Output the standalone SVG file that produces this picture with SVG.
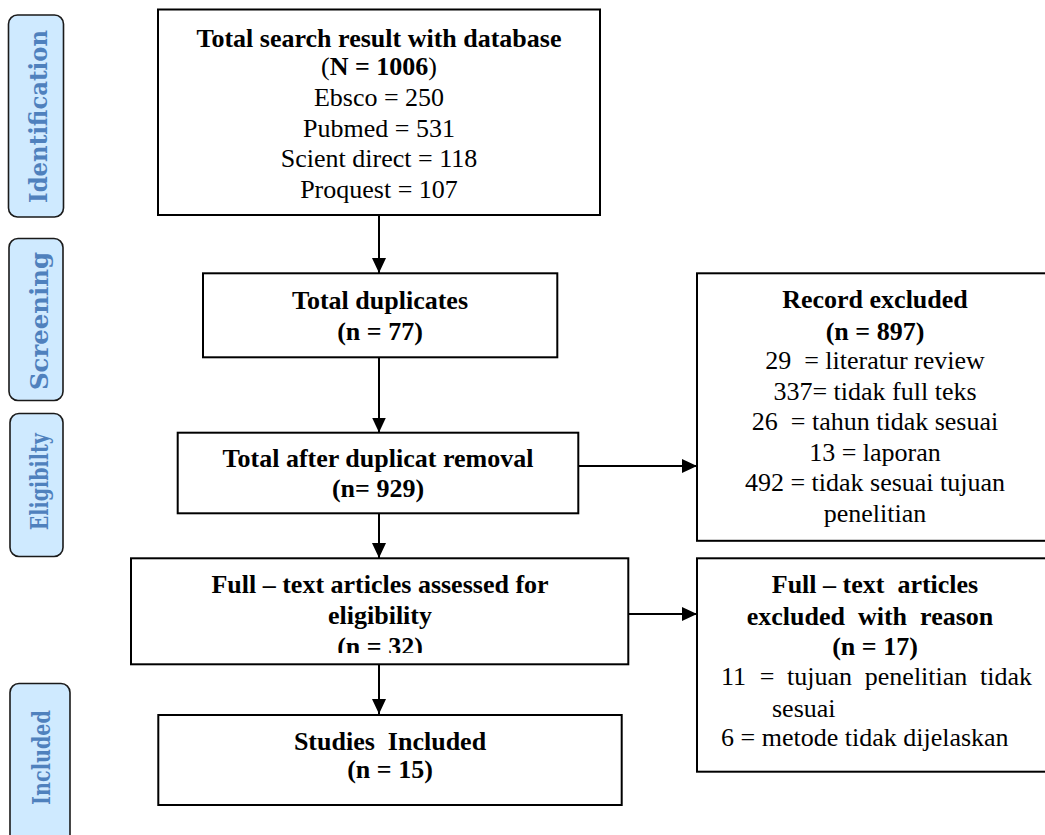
<svg xmlns="http://www.w3.org/2000/svg" width="1045" height="835" viewBox="0 0 1045 835">
<style>
.box{fill:#fff;stroke:#000;stroke-width:2}
.stage{fill:#cfeaff;stroke:#1a1a1a;stroke-width:1.6}
.st{font-family:"DejaVu Serif","Liberation Serif",serif;font-weight:bold;font-size:24px;fill:#4f81bd;text-anchor:middle}
.t{font-family:"Liberation Serif","Times New Roman",serif;font-size:26px;fill:#000;text-anchor:middle}
.b{font-weight:bold}
.l{text-anchor:start}
.edge{stroke:#000;stroke-width:2;fill:none;marker-end:url(#ah)}
</style>
<defs>
<marker id="ah" markerUnits="userSpaceOnUse" markerWidth="16" markerHeight="16" refX="15" refY="7" orient="auto">
<path d="M0,0 L15,7 L0,14 Z" fill="#000"/>
</marker>
<clipPath id="c4"><rect x="131" y="558" width="500" height="95"/></clipPath>
</defs>
<g id="stage-identification">
<rect class="stage" x="8.5" y="15" width="55" height="202" rx="9"/>
<text class="st" transform="translate(47,116.5) rotate(-90)" textLength="173" lengthAdjust="spacingAndGlyphs">Identification</text>
</g>
<g id="stage-screening">
<rect class="stage" x="9" y="238.5" width="54" height="162" rx="9"/>
<text class="st" transform="translate(48,321) rotate(-90)" textLength="138" lengthAdjust="spacingAndGlyphs">Screening</text>
</g>
<g id="stage-eligibility">
<rect class="stage" x="10" y="413.5" width="53" height="143" rx="9"/>
<text class="st" transform="translate(48,481.7) rotate(-90)" textLength="97" lengthAdjust="spacingAndGlyphs">Eligibilty</text>
</g>
<g id="stage-included">
<rect class="stage" x="10" y="683.5" width="60" height="170" rx="9"/>
<text class="st" transform="translate(50,757.5) rotate(-90)" textLength="95" lengthAdjust="spacingAndGlyphs">Included</text>
</g>
<g id="connectors">
<line class="edge" x1="379" y1="215" x2="379" y2="273"/>
<line class="edge" x1="379" y1="357" x2="379" y2="432.5"/>
<line class="edge" x1="379" y1="513" x2="379" y2="558"/>
<line class="edge" x1="379" y1="664" x2="379" y2="714"/>
<line class="edge" x1="578" y1="466" x2="697" y2="466"/>
<line class="edge" x1="628" y1="614" x2="697" y2="614"/>
</g>
<g id="n-search">
<rect class="box" x="158" y="9.5" width="442" height="205.5"/>
<text class="t b" x="379" y="46.5">Total search result with database</text>
<text class="t" x="379" y="74.5">(<tspan class="b">N = 1006</tspan>)</text>
<text class="t" x="379" y="106">Ebsco = 250</text>
<text class="t" x="379" y="136.7">Pubmed = 531</text>
<text class="t" x="379" y="167.3">Scient direct = 118</text>
<text class="t" x="379" y="198">Proquest = 107</text>
</g>
<g id="n-duplicates">
<rect class="box" x="203" y="273.3" width="354.3" height="84"/>
<text class="t b" x="380" y="309.3">Total duplicates</text>
<text class="t b" x="380" y="340">(n = 77)</text>
</g>
<g id="n-after">
<rect class="box" x="177.7" y="432.7" width="400.6" height="80.6"/>
<text class="t b" x="378" y="467.3">Total after duplicat removal</text>
<text class="t b" x="378" y="497">(n= 929)</text>
</g>
<g id="n-record-excluded">
<rect class="box" x="697" y="273.3" width="356" height="267.5"/>
<text class="t b" x="875" y="308.3">Record excluded</text>
<text class="t b" x="875" y="340">(n = 897)</text>
<text class="t" x="875" y="369.3" xml:space="preserve">29  = literatur review</text>
<text class="t" x="875" y="400">337= tidak full teks</text>
<text class="t" x="875" y="430" xml:space="preserve">26  = tahun tidak sesuai</text>
<text class="t" x="875" y="460.7">13 = laporan</text>
<text class="t" x="875" y="490.7">492 = tidak sesuai tujuan</text>
<text class="t" x="875" y="521.7">penelitian</text>
</g>
<g id="n-assessed">
<rect class="box" x="131" y="558.3" width="497.3" height="106"/>
<g clip-path="url(#c4)">
<text class="t b" x="380" y="593.3">Full – text articles assessed for</text>
<text class="t b" x="380" y="623.5">eligibility</text>
<text class="t b" x="380" y="654.5">(n = 32)</text>
</g>
</g>
<g id="n-fulltext-excluded">
<rect class="box" x="697" y="558.3" width="356" height="213.4"/>
<text class="t b" x="875" y="593.3" xml:space="preserve">Full – text  articles</text>
<text class="t b" x="870" y="625" xml:space="preserve">excluded  with  reason</text>
<text class="t b" x="875" y="655">(n = 17)</text>
<text class="t l" y="685"><tspan x="721">11</tspan><tspan x="759.7">=</tspan><tspan x="787.1">tujuan</tspan><tspan x="864.8">penelitian</tspan><tspan x="980">tidak</tspan></text>
<text class="t l" x="772" y="716.7">sesuai</text>
<text class="t l" x="721" y="746">6 = metode tidak dijelaskan</text>
</g>
<g id="n-included">
<rect class="box" x="158.3" y="715" width="463.4" height="90"/>
<text class="t b" x="390" y="750" xml:space="preserve">Studies  Included</text>
<text class="t b" x="390" y="778">(n = 15)</text>
</g>
</svg>
